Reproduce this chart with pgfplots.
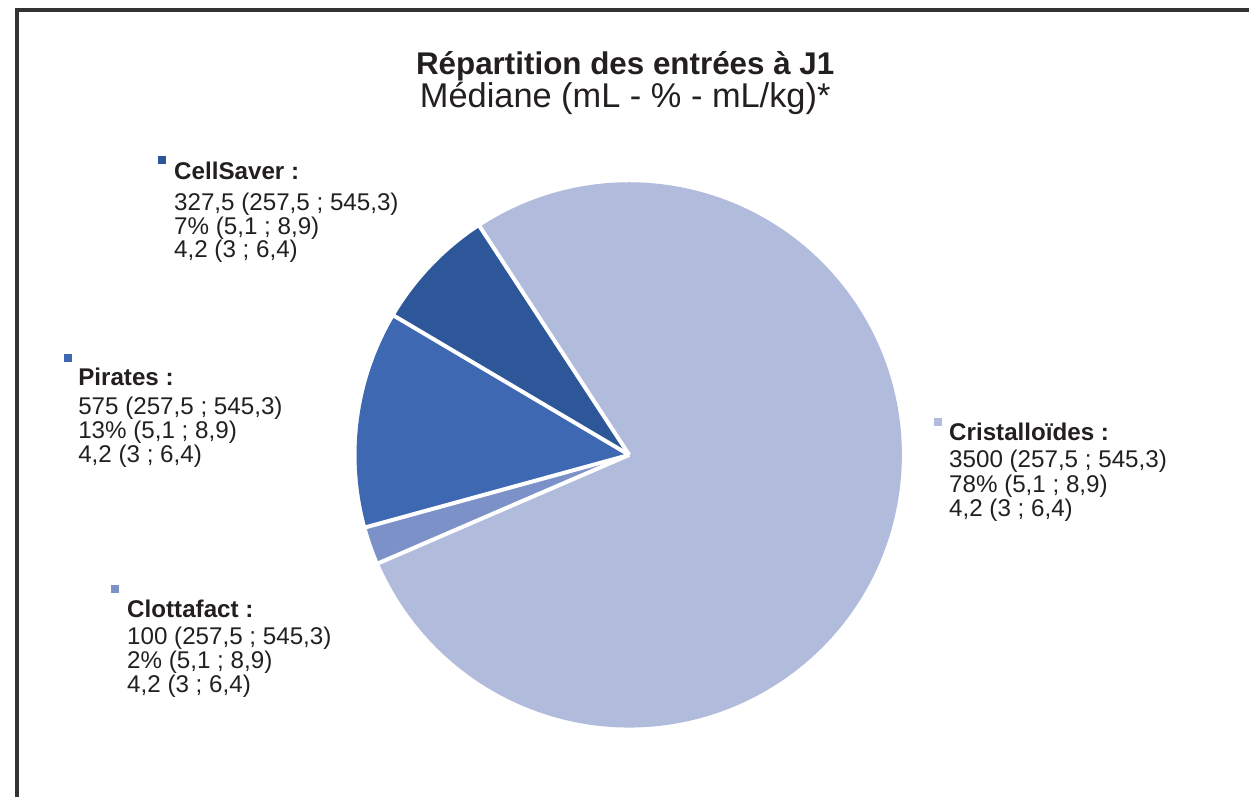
\documentclass[border=0pt]{standalone}
\usepackage{fontspec}
\setmainfont{Liberation Sans}
\usepackage{pgfplots}
\pgfplotsset{compat=1.18}

\definecolor{cris}{HTML}{B1BCDD}
\definecolor{clot}{HTML}{7B91C8}
\definecolor{pir}{HTML}{3E69B2}
\definecolor{cell}{HTML}{2E5799}
\definecolor{txt}{HTML}{231F20}
\definecolor{frame}{HTML}{333333}

\tikzset{
    lbl/.style={anchor=base west, inner sep=0pt, text=txt,
        font=\fontsize{12.1}{14}\selectfont},
    hdr/.style={lbl, font=\fontsize{12.1}{14}\selectfont\bfseries},
    sep/.style={white, line width=2pt},
}

\begin{document}
\begin{tikzpicture}
% medians (mL), drawn clockwise from the first slice
\def\vCris{3500}
\def\vClot{100}
\def\vPir{575}
\def\vCell{327.5}
\pgfmathsetmacro\total{\vCris+\vClot+\vPir+\vCell}
\pgfmathsetmacro\aA{123.2}
\pgfmathsetmacro\aB{\aA-360*(\vCris/\total)}
\pgfmathsetmacro\aC{\aB-360*(\vClot/\total)}
\pgfmathsetmacro\aD{\aC-360*(\vPir/\total)}
\pgfmathsetmacro\aE{\aD-360*(\vCell/\total)}
\def\R{136.5pt}
\begin{axis}[
    hide axis,
    scale only axis,
    x=0.5pt, y=0.5pt,
    xmin=0, xmax=1251,
    ymin=0, ymax=798,
    clip=false,
]
\path (axis cs:0,0) (axis cs:1251,798);
% frame
\draw[frame, line width=1.6pt] (axis cs:17,0) -- (axis cs:17,788) -- (axis cs:1251,788);

% slices
\fill[cris] (axis cs:630,342.5) -- ++(\aA:\R) arc[start angle=\aA, end angle=\aB, radius=\R] -- cycle;
\fill[clot] (axis cs:630,342.5) -- ++(\aB:\R) arc[start angle=\aB, end angle=\aC, radius=\R] -- cycle;
\fill[pir]  (axis cs:630,342.5) -- ++(\aC:\R) arc[start angle=\aC, end angle=\aD, radius=\R] -- cycle;
\fill[cell] (axis cs:630,342.5) -- ++(\aD:\R) arc[start angle=\aD, end angle=\aE, radius=\R] -- cycle;
% white separators
\draw[sep] (axis cs:630,342.5) -- ++(\aA:137.5pt);
\draw[sep] (axis cs:630,342.5) -- ++(\aB:137.5pt);
\draw[sep] (axis cs:630,342.5) -- ++(\aC:137.5pt);
\draw[sep] (axis cs:630,342.5) -- ++(\aD:137.5pt);

% title
\node[anchor=base, inner sep=0pt, text=txt, font=\fontsize{15.7}{18}\selectfont\bfseries]
    at (axis cs:626,723) {Répartition des entrées à J1};
\node[anchor=base, inner sep=0pt, text=txt, font=\fontsize{17.2}{19}\selectfont]
    at (axis cs:626,690) {Médiane (mL - \% - mL/kg)*};

% CellSaver
\fill[cell] (axis cs:158,634) rectangle (axis cs:166,642);
\node[hdr] at (axis cs:174,618) {CellSaver :};
\node[lbl] at (axis cs:174,587) {327,5 (257,5 ; 545,3)};
\node[lbl] at (axis cs:174,563) {7\% (5,1 ; 8,9)};
\node[lbl] at (axis cs:174,540) {4,2 (3 ; 6,4)};

% Pirates
\fill[pir] (axis cs:64,436) rectangle (axis cs:72,444);
\node[hdr] at (axis cs:78,412) {Pirates :};
\node[lbl] at (axis cs:78,383) {575 (257,5 ; 545,3)};
\node[lbl] at (axis cs:78,359) {13\% (5,1 ; 8,9)};
\node[lbl] at (axis cs:78,335) {4,2 (3 ; 6,4)};

% Clottafact
\fill[clot] (axis cs:111,204) rectangle (axis cs:119,212);
\node[hdr] at (axis cs:127,180) {Clottafact :};
\node[lbl] at (axis cs:127,153) {100 (257,5 ; 545,3)};
\node[lbl] at (axis cs:127,129) {2\% (5,1 ; 8,9)};
\node[lbl] at (axis cs:127,105) {4,2 (3 ; 6,4)};

% Cristalloides
\fill[cris] (axis cs:935,371) rectangle (axis cs:943,379);
\node[hdr] at (axis cs:950,357) {Cristalloïdes :};
\node[lbl] at (axis cs:950,330) {3500 (257,5 ; 545,3)};
\node[lbl] at (axis cs:950,305) {78\% (5,1 ; 8,9)};
\node[lbl] at (axis cs:950,281) {4,2 (3 ; 6,4)};
\end{axis}
\end{tikzpicture}
\end{document}
